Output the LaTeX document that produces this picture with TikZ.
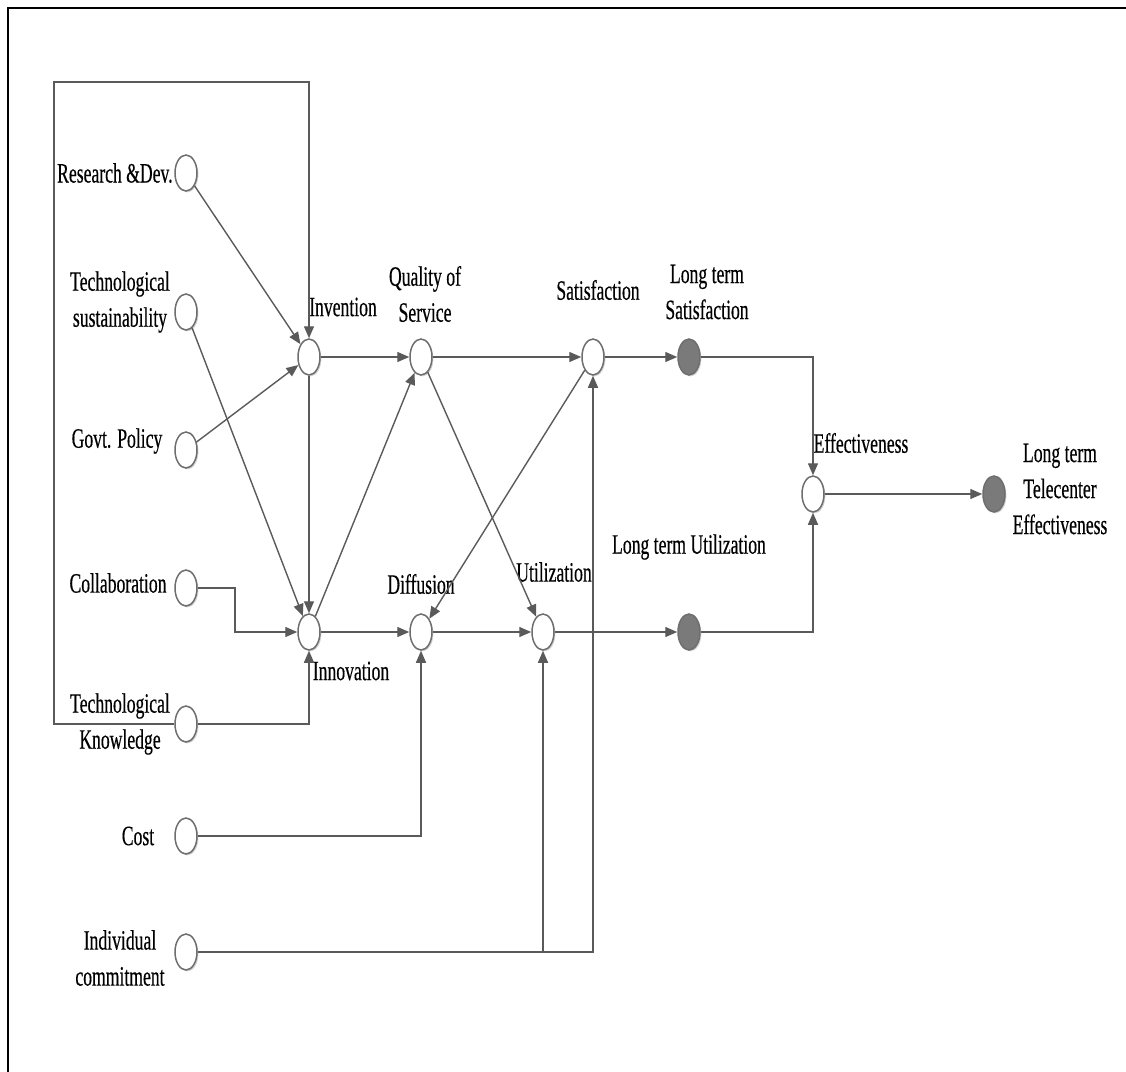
\documentclass[tikz,border=0pt]{standalone}
\usepackage{fontspec}
\setmainfont{Liberation Serif}[FakeStretch=0.63, FakeBold=0.4]
\usetikzlibrary{shapes.geometric,arrows.meta,shadows}
\definecolor{wire}{HTML}{5A5A5A}
\definecolor{ring}{HTML}{6E6E6E}
\definecolor{solid}{HTML}{7A7A7A}
\begin{document}
\begin{tikzpicture}[x=0.5pt,y=-0.5pt,
  var/.style={ellipse, draw=ring, line width=0.75pt, fill=white,
    minimum width=11pt, minimum height=18pt, inner sep=0pt,
    drop shadow={shadow xshift=0.7pt, shadow yshift=-0.7pt, fill=black!18, opacity=1}},
  outvar/.style={var, fill=solid},
  lbl/.style={font=\fontsize{14}{18}\selectfont, align=center, inner sep=0pt, text=black},
  link/.style={draw=wire, line width=0.7pt},
  arr/.style={link, -{Triangle[length=6pt,width=5pt]}}
]
\useasboundingbox (0,0) rectangle (1126,1072);

% page frame
\draw[black, line width=1.1pt] (8,1072) -- (8,8) -- (1126,8);

% input factors
\node[var] (rd)   at (186,173) {};
\node[var] (ts)   at (186,312) {};
\node[var] (gp)   at (186,450) {};
\node[var] (co)   at (186,588) {};
\node[var] (tk)   at (186,724) {};
\node[var] (cost) at (186,836) {};
\node[var] (ic)   at (186,952) {};

% intermediate constructs
\node[var] (inv) at (309,357) {};
\node[var] (inn) at (309,632) {};
\node[var] (qos) at (421,357) {};
\node[var] (dif) at (421,632) {};
\node[var] (sat) at (593,357) {};
\node[var] (uti) at (543,632) {};
\node[var] (eff) at (813,494) {};

% long-term outcomes
\node[outvar] (lts) at (689,357) {};
\node[outvar] (ltu) at (689,632) {};
\node[outvar] (lte) at (994,494) {};

% labels
\node[lbl, anchor=east] (lrd) at (173,173) {Research \&Dev.};
\node[lbl] (lts1) at (120,302) {Technological\\sustainability};
\node[lbl] (lgp)  at (117,441) {Govt. Policy};
\node[lbl] (lco)  at (118,583) {Collaboration};
\node[lbl] (ltk)  at (120,724) {Technological\\Knowledge};
\node[lbl] (lcost) at (138,836) {Cost};
\node[lbl] (lic)  at (120,958) {Individual\\commitment};
\node[lbl] (linv) at (343,307) {Invention};
\node[lbl] (lqos) at (425,294) {Quality of\\Service};
\node[lbl] (lsat) at (598,290) {Satisfaction};
\node[lbl] (llts) at (707,292) {Long term\\Satisfaction};
\node[lbl] (leff) at (861,443) {Effectiveness};
\node[lbl] (llte) at (1060,489) {Long term\\Telecenter\\Effectiveness};
\node[lbl] (lltu) at (689,547) {Long term Utilization};
\node[lbl] (luti) at (554,572) {Utilization};
\node[lbl] (ldif) at (421,584) {Diffusion};
\node[lbl] (linn) at (351,671) {Innovation};

% corners of the enclosing box around the inputs
\coordinate (boxbl) at (54,724);
\coordinate (boxtl) at (54,82);
\coordinate (boxtr) at (309,82);
\coordinate (cobend) at (235,588);

% connectors into Invention / Innovation
\draw[arr] (rd) -- (inv);
\draw[arr] (gp) -- (inv);
\draw[arr] (ts) -- (inn);
\draw[arr] (co.east) -- (cobend) |- (inn.west);
\draw[arr] (tk.east) -| (inn.south);
\draw[arr] (tk.west) -- (boxbl) -- (boxtl) -- (boxtr) -- (inv.north);
\draw[arr] (inv.south) -- (inn.north);

% middle layer
\draw[arr] (inv) -- (qos);
\draw[arr] (inn) -- (qos);
\draw[arr] (inn) -- (dif);
\draw[arr] (qos) -- (sat);
\draw[arr] (qos) -- (uti);
\draw[arr] (sat) -- (dif);
\draw[arr] (dif) -- (uti);
\draw[arr] (cost.east) -| (dif.south);
\draw[arr] (ic.east) -| (sat.south);
\draw[arr] (ic.east -| uti.south) -- (uti.south);

% outcomes
\draw[arr] (sat) -- (lts);
\draw[arr] (uti) -- (ltu);
\draw[arr] (lts.east) -| (eff.north);
\draw[arr] (ltu.east) -| (eff.south);
\draw[arr] (eff) -- (lte);
\end{tikzpicture}
\end{document}
